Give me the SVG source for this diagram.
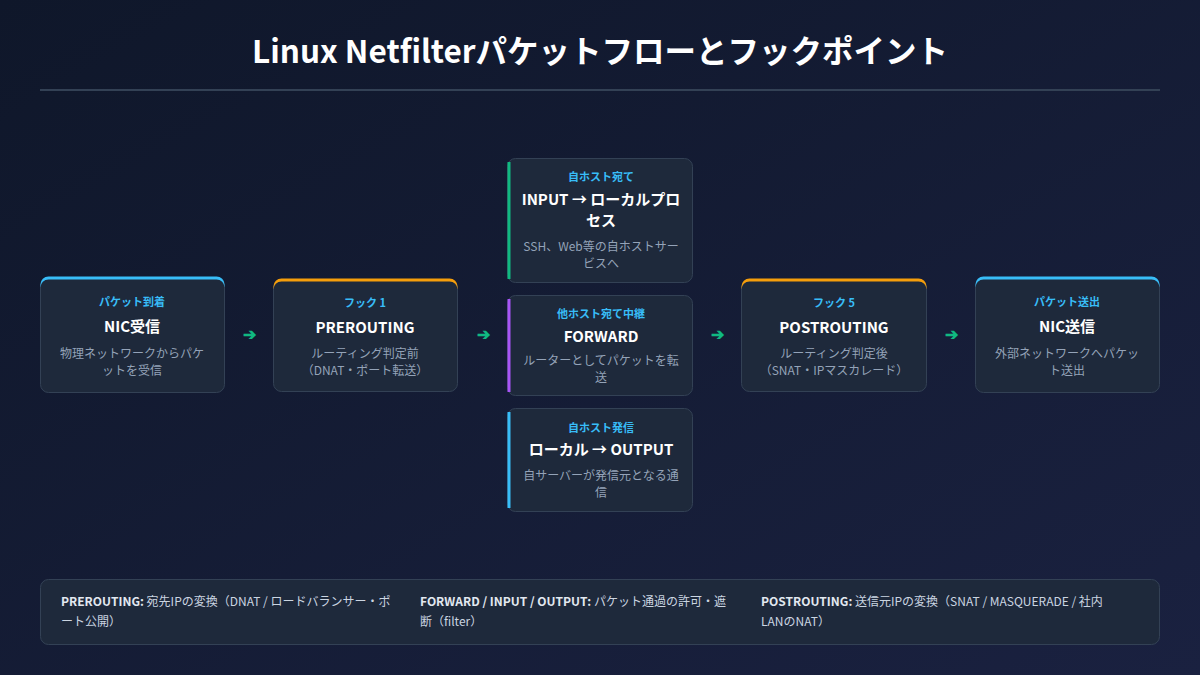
<svg xmlns="http://www.w3.org/2000/svg" width="1200" height="675" viewBox="0 0 1200 675">
<defs>
<linearGradient id="bg" x1="0" y1="0" x2="1" y2="1"><stop offset="0" stop-color="#0f172a"/><stop offset="1" stop-color="#1a2140"/></linearGradient>
<style>
text{font-family:"Noto Sans CJK JP","Noto Sans",sans-serif;text-anchor:middle}
.box{fill:#1e293b;stroke:#334155;stroke-width:1}
.tag{fill:#38bdf8;font-size:11px;font-weight:bold}
.ttl{fill:#fff;font-size:15px;font-weight:bold}
.dsc{fill:#94a3b8;font-size:12px}
.arr{fill:#10b981;font-size:16px;font-weight:bold}
.leg{fill:#cbd5e1;font-size:12px;text-anchor:start}
.legb{font-weight:bold;fill:#e2e8f0}
</style>
</defs>
<rect width="1200" height="675" fill="url(#bg)"/>
<text x="600" y="63" fill="#fff" font-size="31.5" font-weight="bold">Linux Netfilterパケットフローとフックポイント</text>
<line x1="40" y1="90" x2="1160" y2="90" stroke="#334155" stroke-width="2"/>

<g id="nic-in"><rect class="box" x="40.500" y="277.500" width="184" height="115" rx="8"/><path d="M40.500 287.500a8 8 0 0 1 8-8h168a8 8 0 0 1 8 8v-3a8 8 0 0 0-8-8h-168a8 8 0 0 0-8 8z" fill="#38bdf8"/>
<text class="tag" x="132" y="306">パケット到着</text><text class="ttl" x="132" y="332">NIC受信</text><text class="dsc" x="132" y="358">物理ネットワークからパケ</text><text class="dsc" x="132" y="375">ットを受信</text></g>

<g id="prerouting"><rect class="box" x="273.500" y="279.500" width="184" height="112" rx="8"/><path d="M273.500 289.500a8 8 0 0 1 8-8h168a8 8 0 0 1 8 8v-3a8 8 0 0 0-8-8h-168a8 8 0 0 0-8 8z" fill="#f59e0b"/>
<text class="tag" x="365" y="307">フック 1</text><text class="ttl" x="365" y="333">PREROUTING</text><text class="dsc" x="365" y="358">ルーティング判定前</text><text class="dsc" x="365" y="375">（DNAT・ポート転送）</text></g>

<g id="input"><rect class="box" x="507.500" y="158.500" width="185" height="124" rx="8"/><rect x="507.500" y="162" width="3" height="117" fill="#10b981"/>
<text class="tag" x="601" y="181">自ホスト宛て</text><text class="ttl" x="601" y="205">INPUT → ローカルプロ</text><text class="ttl" x="601" y="226">セス</text><text class="dsc" x="601" y="251">SSH、Web等の自ホストサー</text><text class="dsc" x="601" y="268">ビスへ</text></g>

<g id="forward"><rect class="box" x="507.500" y="295.500" width="185" height="100" rx="8"/><rect x="507.500" y="299" width="3" height="93" fill="#a855f7"/>
<text class="tag" x="601" y="318">他ホスト宛て中継</text><text class="ttl" x="601" y="342">FORWARD</text><text class="dsc" x="601" y="365">ルーターとしてパケットを転</text><text class="dsc" x="601" y="382">送</text></g>

<g id="output"><rect class="box" x="507.500" y="408.500" width="185" height="103" rx="8"/><rect x="507.500" y="412" width="3" height="96" fill="#38bdf8"/>
<text class="tag" x="601" y="432">自ホスト発信</text><text class="ttl" x="601" y="455">ローカル → OUTPUT</text><text class="dsc" x="601" y="480">自サーバーが発信元となる通</text><text class="dsc" x="601" y="497">信</text></g>

<g id="postrouting"><rect class="box" x="741.500" y="279.500" width="185" height="112" rx="8"/><path d="M741.500 289.500a8 8 0 0 1 8-8h169a8 8 0 0 1 8 8v-3a8 8 0 0 0-8-8h-169a8 8 0 0 0-8 8z" fill="#f59e0b"/>
<text class="tag" x="834" y="307">フック 5</text><text class="ttl" x="834" y="333">POSTROUTING</text><text class="dsc" x="834" y="358">ルーティング判定後</text><text class="dsc" x="834" y="375">（SNAT・IPマスカレード）</text></g>

<g id="nic-out"><rect class="box" x="975.500" y="277.500" width="184" height="115" rx="8"/><path d="M975.500 287.500a8 8 0 0 1 8-8h168a8 8 0 0 1 8 8v-3a8 8 0 0 0-8-8h-168a8 8 0 0 0-8 8z" fill="#38bdf8"/>
<text class="tag" x="1067" y="306">パケット送出</text><text class="ttl" x="1067" y="332">NIC送信</text><text class="dsc" x="1067" y="358">外部ネットワークへパケッ</text><text class="dsc" x="1067" y="375">ト送出</text></g>

<g id="connectors">
<text class="arr" x="249" y="340">➔</text><text class="arr" x="483" y="340">➔</text><text class="arr" x="717" y="340">➔</text><text class="arr" x="951" y="340">➔</text>
</g>

<g id="legend"><rect x="40.500" y="579.500" width="1119" height="65" rx="8" fill="#1e293b" stroke="#334155"/>
<text class="leg" x="61" y="606"><tspan class="legb">PREROUTING:</tspan> 宛先IPの変換（DNAT / ロードバランサー・ポ</text><text class="leg" x="61" y="626">ート公開）</text>
<text class="leg" x="420" y="606"><tspan class="legb">FORWARD / INPUT / OUTPUT:</tspan> パケット通過の許可・遮</text><text class="leg" x="420" y="626">断（filter）</text>
<text class="leg" x="761" y="606"><tspan class="legb">POSTROUTING:</tspan> 送信元IPの変換（SNAT / MASQUERADE / 社内</text><text class="leg" x="761" y="626">LANのNAT）</text></g>
</svg>
